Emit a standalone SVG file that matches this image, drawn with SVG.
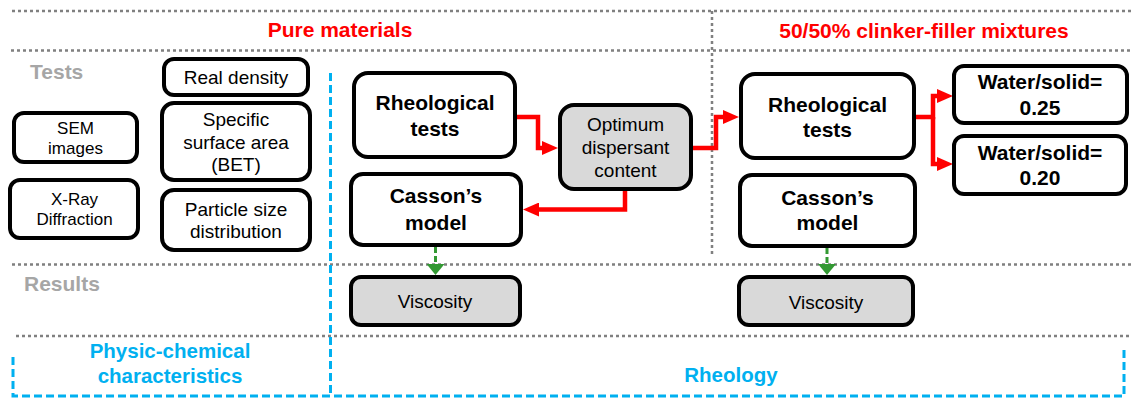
<svg xmlns="http://www.w3.org/2000/svg" width="1131" height="399" viewBox="0 0 1131 399">
<defs>
<style>
.box{fill:#fff;stroke:#000;stroke-width:4}
.gbox{fill:#D9D9D9;stroke:#000;stroke-width:4}
.t{font-family:"Liberation Sans",Arial,sans-serif;font-size:19px;fill:#000;text-anchor:middle}
.ts{font-family:"Liberation Sans",Arial,sans-serif;font-size:17px;fill:#000;text-anchor:middle}
.tb{font-family:"Liberation Sans",Arial,sans-serif;font-size:21px;font-weight:bold;fill:#000;text-anchor:middle}
.red{font-family:"Liberation Sans",Arial,sans-serif;font-size:21px;font-weight:bold;fill:#FF0000;text-anchor:middle}
.gray{font-family:"Liberation Sans",Arial,sans-serif;font-size:21px;font-weight:bold;fill:#A6A6A6}
.blue{font-family:"Liberation Sans",Arial,sans-serif;font-size:20.5px;font-weight:bold;fill:#00B0F0;text-anchor:middle}
.dot{fill:none;stroke:#808080;stroke-width:2.5;stroke-dasharray:3 3}
.dash{fill:none;stroke:#00B0F0;stroke-width:3;stroke-dasharray:8 4}
.rl{fill:none;stroke:#FF0000;stroke-width:4.5;stroke-linejoin:miter}
.gl{fill:none;stroke:#339933;stroke-width:3;stroke-dasharray:6 3}
</style>
<marker id="ra" markerUnits="userSpaceOnUse" viewBox="0 0 16 14" refX="0" refY="7" markerWidth="16" markerHeight="14" orient="auto">
<path d="M0,0 L16,7 L0,14 z" fill="#FF0000"/>
</marker>
<marker id="ga" markerUnits="userSpaceOnUse" viewBox="0 0 11 18" refX="0" refY="9" markerWidth="11" markerHeight="18" orient="auto">
<path d="M0,0 L11,9 L0,18 z" fill="#339933"/>
</marker>
</defs>
<rect width="1131" height="399" fill="#fff"/>
<g id="frame">
<path class="dot" d="M12,11 H1131 M11,50.5 H1131 M12,264.5 H1131 M16,336 H1131 M712,11 V254"/>
<path class="dash" d="M13,357 V396 H1124 V348 M330.5,73 V396"/>
<text class="red" x="340" y="37">Pure materials</text>
<text class="red" x="924" y="38">50/50% clinker-filler mixtures</text>
<text class="gray" x="30" y="79">Tests</text>
<text class="gray" x="24" y="291">Results</text>
<text class="blue" x="170" y="358">Physic-chemical</text>
<text class="blue" x="170" y="383">characteristics</text>
<text class="blue" x="731" y="382">Rheology</text>
</g>
<g id="connectors">
<path class="rl" d="M517,117 H538 V148 H542" marker-end="url(#ra)"/>
<path class="rl" d="M693,148 H716 V117 H723" marker-end="url(#ra)"/>
<path class="rl" d="M625,191 V209.5 H539" marker-end="url(#ra)"/>
<path class="rl" d="M916,117 H933 V96 H937" marker-end="url(#ra)"/>
<path class="rl" d="M933,117 V164 H937" marker-end="url(#ra)"/>
<path class="gl" d="M435.5,247 V264" marker-end="url(#ga)"/>
<path class="gl" d="M827,248 V264" marker-end="url(#ga)"/>
</g>
<g id="real-density">
<rect class="box" x="164" y="59" width="144" height="36" rx="10"/>
<text class="t" x="236" y="84">Real density</text>
</g>
<g id="specific-surface">
<rect class="box" x="162" y="103" width="148" height="77" rx="12"/>
<text class="t" x="236" y="126">Specific</text>
<text class="t" x="236" y="149">surface area</text>
<text class="t" x="236" y="171">(BET)</text>
</g>
<g id="particle-size">
<rect class="box" x="162" y="190" width="148" height="60" rx="12"/>
<text class="t" x="236" y="216">Particle size</text>
<text class="t" x="236" y="238">distribution</text>
</g>
<g id="sem">
<rect class="box" x="14" y="113" width="123" height="49" rx="10"/>
<text class="ts" x="75.5" y="134">SEM</text>
<text class="ts" x="75.5" y="154">images</text>
</g>
<g id="xray">
<rect class="box" x="10" y="180" width="128" height="58" rx="10"/>
<text class="ts" x="74.5" y="205">X-Ray</text>
<text class="ts" x="74.5" y="225">Diffraction</text>
</g>
<g id="rheo-left">
<rect class="box" x="354" y="73" width="161" height="84" rx="14"/>
<text class="tb" x="435" y="110">Rheological</text>
<text class="tb" x="435" y="136">tests</text>
</g>
<g id="optimum">
<rect class="gbox" x="560" y="105" width="131" height="84" rx="14"/>
<text class="t" x="625.5" y="131">Optimum</text>
<text class="t" x="625.5" y="154">dispersant</text>
<text class="t" x="625.5" y="177">content</text>
</g>
<g id="casson-left">
<rect class="box" x="351" y="174" width="170" height="71" rx="12"/>
<text class="tb" x="436" y="203">Casson’s</text>
<text class="tb" x="436" y="230">model</text>
</g>
<g id="viscosity-left">
<rect class="gbox" x="351" y="277" width="169" height="48" rx="10"/>
<text class="t" x="435" y="308">Viscosity</text>
</g>
<g id="rheo-right">
<rect class="box" x="741" y="74" width="173" height="84" rx="14"/>
<text class="tb" x="827.5" y="112">Rheological</text>
<text class="tb" x="827.5" y="137">tests</text>
</g>
<g id="water-025">
<rect class="box" x="954" y="66" width="173" height="57" rx="10"/>
<text class="tb" x="1040" y="89">Water/solid=</text>
<text class="tb" x="1040" y="115">0.25</text>
</g>
<g id="water-020">
<rect class="box" x="954" y="136" width="172" height="58" rx="10"/>
<text class="tb" x="1040" y="160">Water/solid=</text>
<text class="tb" x="1040" y="185">0.20</text>
</g>
<g id="casson-right">
<rect class="box" x="740" y="175" width="175" height="71" rx="12"/>
<text class="tb" x="827.5" y="205">Casson’s</text>
<text class="tb" x="827.5" y="230">model</text>
</g>
<g id="viscosity-right">
<rect class="gbox" x="739" y="277" width="174" height="48" rx="10"/>
<text class="t" x="826" y="309">Viscosity</text>
</g>
</svg>
